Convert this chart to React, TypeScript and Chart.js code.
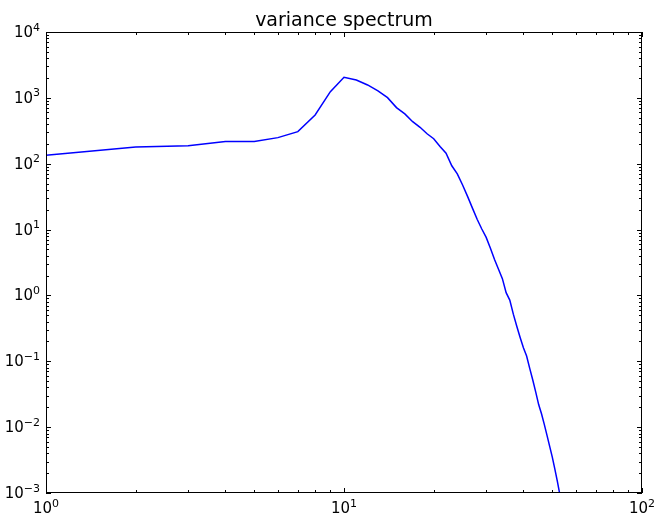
import React, { useEffect, useRef } from "react";
import { Chart, registerables } from "chart.js";

Chart.register(...registerables);

const TITLE = "variance spectrum";
const wavenumbers = [
  1, 2, 3, 4, 5, 6, 7, 8, 9, 10, 11, 12, 13, 14, 15, 16, 17, 18, 19, 20,
  21, 22, 23, 24, 25, 26, 27, 28, 29, 30, 31, 32, 33, 34, 35, 36, 37, 38, 39, 40,
  41, 42, 43, 44, 45, 46, 47, 48, 49, 50, 51, 52, 53, 54,
];
const variance = [
  135, 180, 188, 217, 217, 249, 307, 550, 1241, 2053, 1870, 1570, 1273, 1008, 711, 570, 435, 357, 285, 240,
  183, 144, 93, 70, 47.5, 31.6, 21, 14.2, 10.2, 7.6, 5.2, 3.5, 2.5, 1.8, 1.1, 0.85, 0.52, 0.34, 0.23, 0.16,
  0.12, 0.078, 0.052, 0.034, 0.022, 0.016, 0.011, 0.0075, 0.0051, 0.0035, 0.0023, 0.0015, 0.00095, 0.0006,
];
const xDecades = [0, 1, 2];
const yDecades = [-3, -2, -1, 0, 1, 2, 3, 4];

const FONT = "DejaVu Sans";
const BASE_SIZE = 15;
const SUP_SIZE = 11;

function supText(e: number) {
  return e < 0 ? "\u2212" + Math.abs(e) : String(e);
}

const axesPlugin = {
  id: "mplAxes",
  afterDraw(chart: any) {
    const ctx = chart.ctx as CanvasRenderingContext2D;
    const { left, right, top, bottom } = chart.chartArea;
    const xs = chart.scales.x;
    const ys = chart.scales.y;
    ctx.save();
    ctx.strokeStyle = "#000";
    ctx.lineWidth = 1;
    ctx.strokeRect(Math.round(left) + 0.5, Math.round(top) + 0.5, Math.round(right - left) - 1, Math.round(bottom - top) - 1);

    const MAJ = 5;
    const MIN = 3;
    ctx.beginPath();
    xDecades.forEach((k, i) => {
      const px = Math.round(xs.getPixelForValue(Math.pow(10, k))) + 0.5;
      ctx.moveTo(px, bottom); ctx.lineTo(px, bottom - MAJ);
      ctx.moveTo(px, top); ctx.lineTo(px, top + MAJ);
      if (i < xDecades.length - 1) {
        for (let m = 2; m <= 9; m++) {
          const p = Math.round(xs.getPixelForValue(m * Math.pow(10, k))) + 0.5;
          ctx.moveTo(p, bottom); ctx.lineTo(p, bottom - MIN);
          ctx.moveTo(p, top); ctx.lineTo(p, top + MIN);
        }
      }
    });
    yDecades.forEach((k, i) => {
      const py = Math.round(ys.getPixelForValue(Math.pow(10, k))) + 0.5;
      ctx.moveTo(left, py); ctx.lineTo(left + MAJ, py);
      ctx.moveTo(right, py); ctx.lineTo(right - MAJ, py);
      if (i < yDecades.length - 1) {
        for (let m = 2; m <= 9; m++) {
          const p = Math.round(ys.getPixelForValue(m * Math.pow(10, k))) + 0.5;
          ctx.moveTo(left, p); ctx.lineTo(left + MIN, p);
          ctx.moveTo(right, p); ctx.lineTo(right - MIN, p);
        }
      }
    });
    ctx.stroke();

    ctx.fillStyle = "#000";
    ctx.textBaseline = "alphabetic";
    ctx.textAlign = "left";
    const drawLabel = (x: number, baseY: number, e: number, align: "center" | "right") => {
      ctx.font = `${BASE_SIZE}px "${FONT}"`;
      const wb = ctx.measureText("10").width;
      ctx.font = `${SUP_SIZE}px "${FONT}"`;
      const s = supText(e);
      const ws = ctx.measureText(s).width;
      const total = wb + ws;
      const x0 = align === "center" ? x - total / 2 : x - total;
      ctx.font = `${BASE_SIZE}px "${FONT}"`;
      ctx.fillText("10", x0, baseY);
      ctx.font = `${SUP_SIZE}px "${FONT}"`;
      ctx.fillText(s, x0 + wb, baseY - 6.5);
    };
    xDecades.forEach((k) => {
      const px = xs.getPixelForValue(Math.pow(10, k));
      drawLabel(px, bottom + 20, k, "center");
    });
    yDecades.forEach((k) => {
      const py = ys.getPixelForValue(Math.pow(10, k));
      drawLabel(left - 6, py + 5, k, "right");
    });

    ctx.font = `19px "${FONT}"`;
    ctx.textAlign = "center";
    ctx.fillText(TITLE, (left + right) / 2, top - 6);
    ctx.restore();
  },
};

export default function App() {
  const ref = useRef<HTMLCanvasElement>(null);
  useEffect(() => {
    if (!ref.current) return;
    const chart = new Chart(ref.current, {
      type: "line",
      data: {
        datasets: [
          {
            data: wavenumbers.map((x, i) => ({ x, y: variance[i] })),
            borderColor: "#0000ff",
            borderWidth: 1.5,
            pointRadius: 0,
            tension: 0,
            fill: false,
          },
        ],
      },
      options: {
        animation: false,
        responsive: false,
        maintainAspectRatio: false,
        layout: { padding: { left: 46, right: 16, top: 32, bottom: 25 } },
        scales: {
          x: { type: "logarithmic", min: 1, max: 100, display: false },
          y: { type: "logarithmic", min: 0.001, max: 10000, display: false },
        },
        plugins: { legend: { display: false }, tooltip: { enabled: false }, title: { display: false } },
      },
      plugins: [axesPlugin],
    });
    return () => chart.destroy();
  }, []);
  return (
    <div style={{ position: "absolute", left: 0, top: 0, width: 658, height: 518, background: "#fff" }}>
      <canvas ref={ref} width={658} height={518} style={{ display: "block" }} />
    </div>
  );
}
